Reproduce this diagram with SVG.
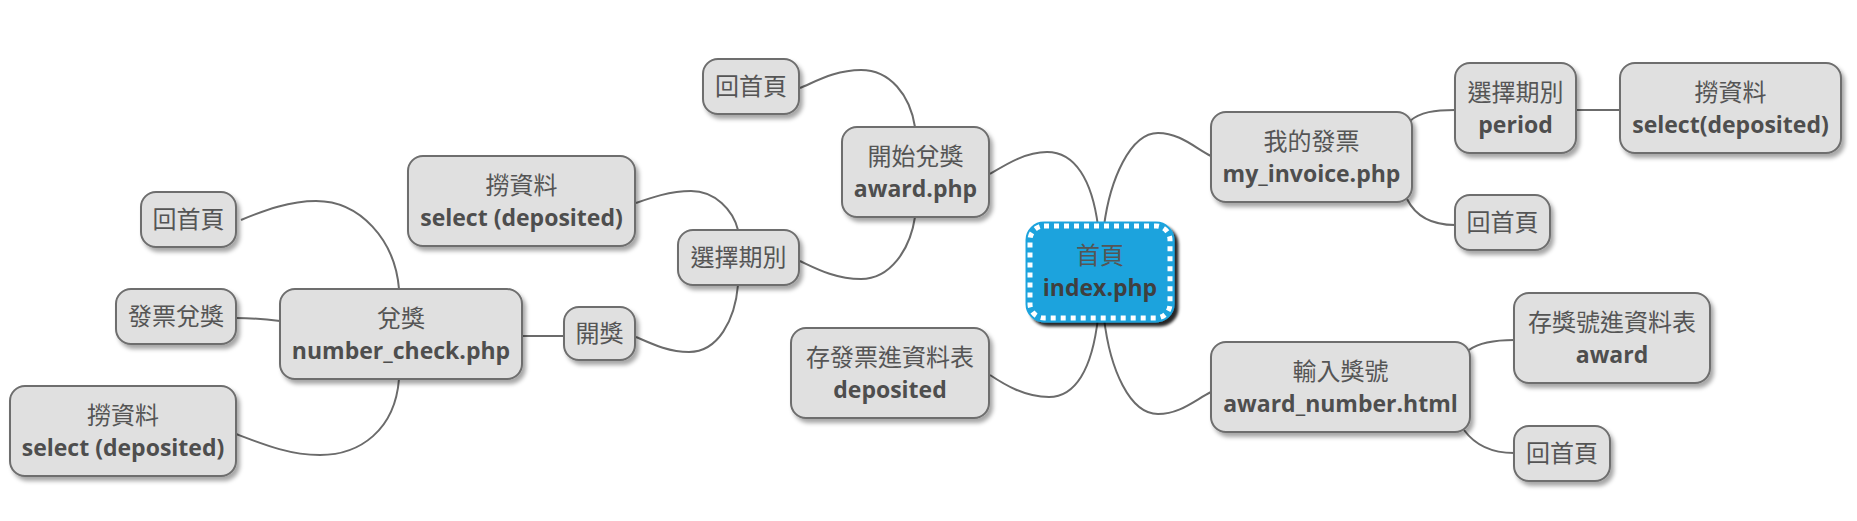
<svg xmlns="http://www.w3.org/2000/svg" width="1857" height="521" viewBox="0 0 1857 521">
<defs>
<filter id="sh" x="-10%" y="-10%" width="130%" height="140%"><feDropShadow dx="3" dy="4" stdDeviation="2" flood-color="#000" flood-opacity="0.35"/></filter>
<filter id="shr" x="-10%" y="-10%" width="130%" height="140%"><feDropShadow dx="4" dy="4" stdDeviation="1.5" flood-color="#000" flood-opacity="0.85"/></filter>
<style>
.n rect{fill:#e0e0e0;stroke:#6e6e6e;stroke-width:2;filter:url(#sh)}
.c path{fill:none;stroke:#6b6b6b;stroke-width:2}
text{text-anchor:middle;fill:#555}
.z{font-family:"Noto Sans CJK TC","Noto Sans CJK SC",sans-serif;font-size:24px}
.l{font-family:"Open Sans","DejaVu Sans",sans-serif;font-size:23px;font-weight:bold;fill:#4e4e4e}
</style>
</defs>
<rect width="1857" height="521" fill="#fff"/>
<g id="connectors" class="c">
<path d="M1098,226 C1092,180 1075,152 1047,152 C1025,152 1005,165 990,174"/>
<path d="M1104,226 C1110,180 1130,133 1158,133 C1180,133 1195,148 1211,156"/>
<path d="M1098,318 C1092,370 1075,397 1049,397 C1025,397 1005,385 990,375"/>
<path d="M1104,318 C1110,370 1130,414 1158,414 C1180,414 1195,400 1211,392"/>
<path d="M915,127 C910,95 890,70 861,70 C835,70 815,82 800,88"/>
<path d="M915,217 C910,250 890,279 861,279 C835,279 815,268 800,261"/>
<path d="M738,230 C733,210 715,191 691,191 C670,191 650,198 636,203"/>
<path d="M738,285 C735,320 718,352 689,352 C668,352 650,343 636,337"/>
<path d="M564,336 L522,336"/>
<path d="M399,289 C395,240 360,201 316,201 C290,201 265,210 241,220"/>
<path d="M236,318 C255,318 265,319 280,321"/>
<path d="M399,379 C395,430 360,455 320,455 C290,455 265,445 236,434"/>
<path d="M1410,121 C1420,112 1435,110 1455,110"/>
<path d="M1576,110 L1620,110"/>
<path d="M1407,199 C1415,215 1430,225 1455,225"/>
<path d="M1469,350 C1480,342 1495,340 1514,340"/>
<path d="M1464,430 C1475,445 1490,453 1514,453"/>
</g>
<g id="root">
<rect x="1030" y="226" width="140" height="92" rx="14" fill="#1ea3dd" stroke="#1ea3dd" stroke-width="9" filter="url(#shr)"/>
<rect x="1030" y="226" width="140" height="92" rx="14" fill="none" stroke="#fff" stroke-width="5" stroke-dasharray="5 5"/>
<text class="z" x="1100" y="264" fill="#444">首頁</text>
<text class="l" x="1100" y="296" style="fill:#3f3f3f">index.php</text>
</g>
<g id="award" class="n"><rect x="842" y="127" width="147" height="90" rx="15"/><text class="z" x="915.5" y="165">開始兌獎</text><text class="l" x="915.5" y="197">award.php</text></g>
<g id="home1" class="n"><rect x="703" y="59" width="96" height="55" rx="15"/><text class="z" x="751" y="95">回首頁</text></g>
<g id="period1" class="n"><rect x="678" y="230" width="121" height="55" rx="15"/><text class="z" x="738.5" y="266">選擇期別</text></g>
<g id="select1" class="n"><rect x="408" y="156" width="227" height="90" rx="15"/><text class="z" x="521.5" y="194">撈資料</text><text class="l" x="521.5" y="226">select (deposited)</text></g>
<g id="draw" class="n"><rect x="564" y="307" width="71" height="53" rx="15"/><text class="z" x="599.5" y="342">開獎</text></g>
<g id="numbercheck" class="n"><rect x="280" y="289" width="242" height="90" rx="15"/><text class="z" x="401" y="327">兌獎</text><text class="l" x="401" y="359">number_check.php</text></g>
<g id="home2" class="n"><rect x="141" y="192" width="95" height="55" rx="15"/><text class="z" x="188.5" y="228">回首頁</text></g>
<g id="redeem" class="n"><rect x="116" y="289" width="120" height="55" rx="15"/><text class="z" x="176" y="325">發票兌獎</text></g>
<g id="select2" class="n"><rect x="10" y="386" width="226" height="90" rx="15"/><text class="z" x="123" y="424">撈資料</text><text class="l" x="123" y="456">select (deposited)</text></g>
<g id="deposited" class="n"><rect x="791" y="328" width="198" height="90" rx="15"/><text class="z" x="890" y="366">存發票進資料表</text><text class="l" x="890" y="398">deposited</text></g>
<g id="myinvoice" class="n"><rect x="1211" y="112" width="201" height="90" rx="15"/><text class="z" x="1311.5" y="150">我的發票</text><text class="l" x="1311.5" y="182">my_invoice.php</text></g>
<g id="period2" class="n"><rect x="1455" y="63" width="121" height="90" rx="15"/><text class="z" x="1515.5" y="101">選擇期別</text><text class="l" x="1515.5" y="133">period</text></g>
<g id="select3" class="n"><rect x="1620" y="63" width="221" height="90" rx="15"/><text class="z" x="1730.5" y="101">撈資料</text><text class="l" x="1730.5" y="133">select(deposited)</text></g>
<g id="home3" class="n"><rect x="1455" y="195" width="95" height="55" rx="15"/><text class="z" x="1502.5" y="231">回首頁</text></g>
<g id="awardnumber" class="n"><rect x="1211" y="342" width="259" height="90" rx="15"/><text class="z" x="1340.5" y="380">輸入獎號</text><text class="l" x="1340.5" y="412">award_number.html</text></g>
<g id="awardtable" class="n"><rect x="1514" y="293" width="196" height="90" rx="15"/><text class="z" x="1612" y="331">存獎號進資料表</text><text class="l" x="1612" y="363">award</text></g>
<g id="home4" class="n"><rect x="1514" y="426" width="96" height="55" rx="15"/><text class="z" x="1562" y="462">回首頁</text></g>
</svg>
